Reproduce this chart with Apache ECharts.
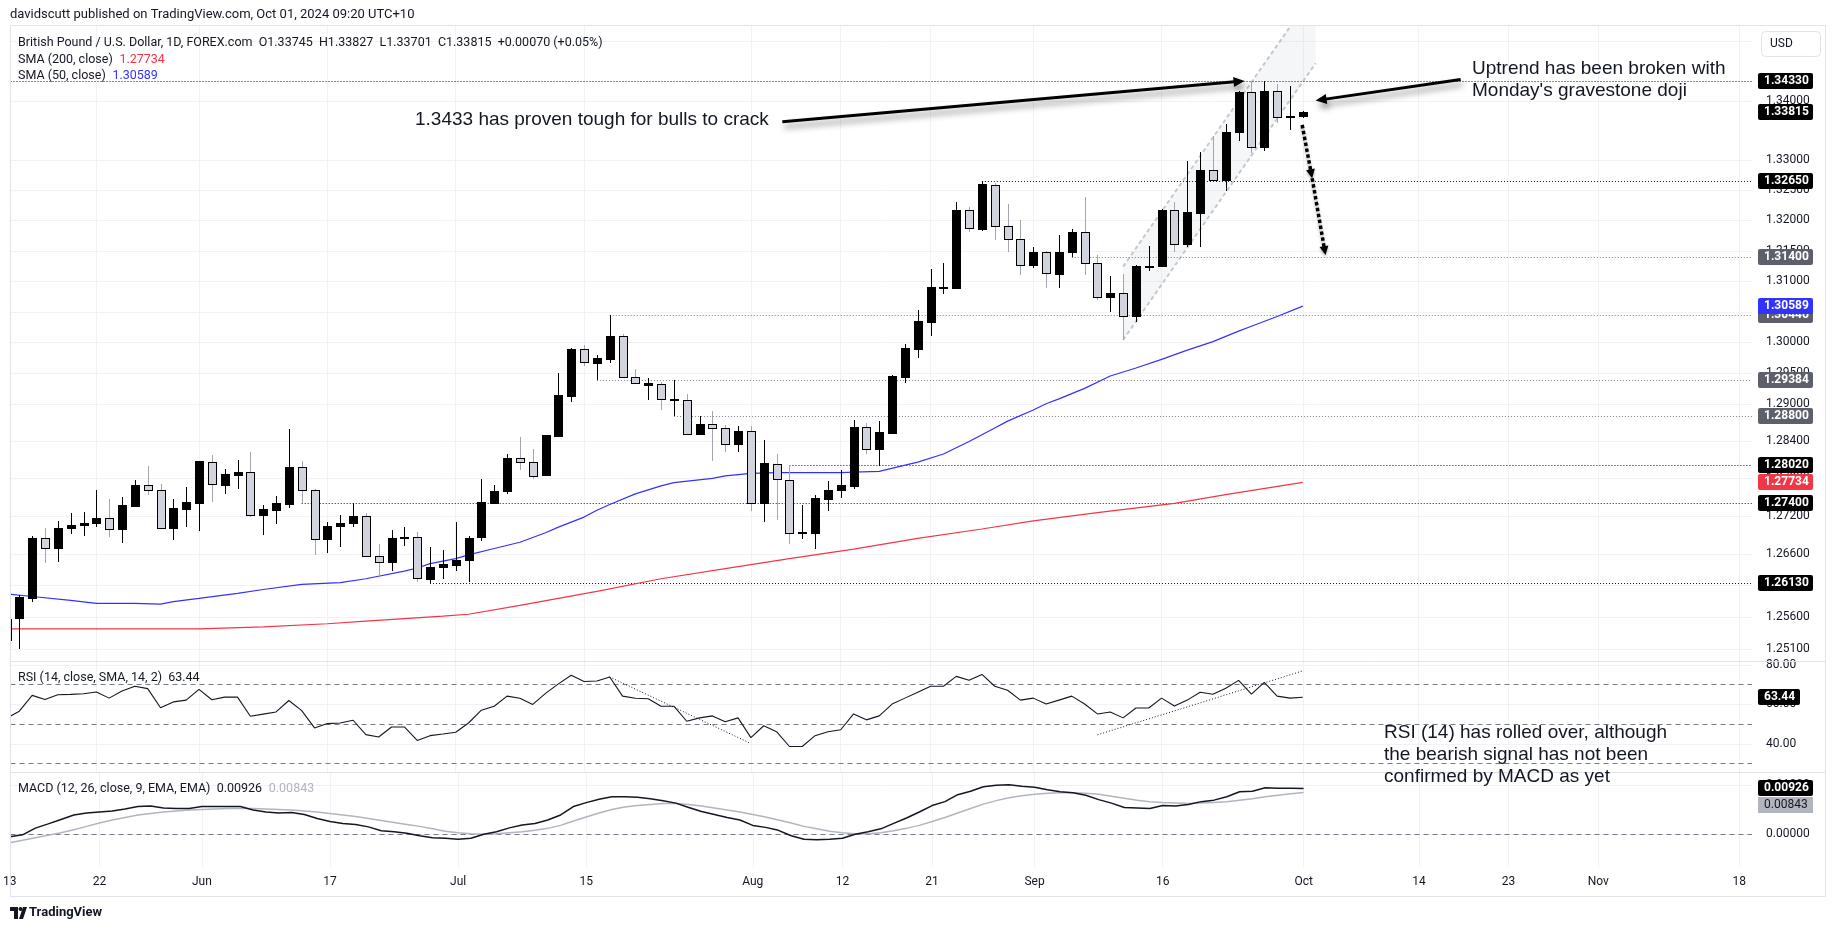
<!DOCTYPE html>
<html><head><meta charset="utf-8">
<script src="https://cdn.jsdelivr.net/npm/echarts@6/dist/echarts.min.js"></script>
<style>html,body{margin:0;padding:0;background:#fff;}#c{width:1835px;height:931px;}</style>
</head><body><div id="c"></div>
<script>
// ---------------- DATA ----------------
const dates = [
'2024-05-13','2024-05-14','2024-05-15','2024-05-16','2024-05-17','2024-05-20','2024-05-21','2024-05-22','2024-05-23','2024-05-24',
'2024-05-27','2024-05-28','2024-05-29','2024-05-30','2024-05-31','2024-06-03','2024-06-04','2024-06-05','2024-06-06','2024-06-07',
'2024-06-10','2024-06-11','2024-06-12','2024-06-13','2024-06-14','2024-06-17','2024-06-18','2024-06-19','2024-06-20','2024-06-21',
'2024-06-24','2024-06-25','2024-06-26','2024-06-27','2024-06-28','2024-07-01','2024-07-02','2024-07-03','2024-07-04','2024-07-05',
'2024-07-08','2024-07-09','2024-07-10','2024-07-11','2024-07-12','2024-07-15','2024-07-16','2024-07-17','2024-07-18','2024-07-19',
'2024-07-22','2024-07-23','2024-07-24','2024-07-25','2024-07-26','2024-07-29','2024-07-30','2024-07-31','2024-08-01','2024-08-02',
'2024-08-05','2024-08-06','2024-08-07','2024-08-08','2024-08-09','2024-08-12','2024-08-13','2024-08-14','2024-08-15','2024-08-16',
'2024-08-19','2024-08-20','2024-08-21','2024-08-22','2024-08-23','2024-08-26','2024-08-27','2024-08-28','2024-08-29','2024-08-30',
'2024-09-02','2024-09-03','2024-09-04','2024-09-05','2024-09-06','2024-09-09','2024-09-10','2024-09-11','2024-09-12','2024-09-13',
'2024-09-16','2024-09-17','2024-09-18','2024-09-19','2024-09-20','2024-09-23','2024-09-24','2024-09-25','2024-09-26','2024-09-27',
'2024-09-30','2024-10-01','2024-10-02','2024-10-03','2024-10-04','2024-10-07','2024-10-08','2024-10-09','2024-10-10','2024-10-11',
'2024-10-14','2024-10-15','2024-10-16','2024-10-17','2024-10-18','2024-10-21','2024-10-22','2024-10-23','2024-10-24','2024-10-25',
'2024-10-28','2024-10-29','2024-10-30','2024-10-31','2024-11-01','2024-11-04','2024-11-05','2024-11-06','2024-11-07','2024-11-08',
'2024-11-11','2024-11-12','2024-11-13','2024-11-14','2024-11-15','2024-11-18','2024-11-19'];
const xTickIdx    = [0,7,15,25,35,45,58,65,72,80,90,101,110,117,124,135];
const xTickLabels = ['13','22','Jun','17','Jul','15','Aug','12','21','Sep','16','Oct','14','23','Nov','18'];

const opens = [1.25240,1.25573,1.25902,1.26845,1.26681,1.26999,1.27046,1.27078,1.27163,1.26983,
1.27364,1.27688,1.27608,1.26999,1.27317,1.27412,1.28069,1.27698,1.27857,1.27894,
1.27211,1.27301,1.27396,1.27974,1.27608,1.26824,1.27036,1.27078,1.27195,1.26554,
1.26458,1.26850,1.26861,1.26204,1.26379,1.26426,1.26490,1.26858,1.27410,1.27599,
1.28131,1.28067,1.27852,1.28478,1.29133,1.29885,1.29667,1.29732,1.30103,1.29427,
1.29310,1.29315,1.29075,1.29059,1.28515,1.28675,1.28611,1.28355,1.28563,1.27400,
1.28036,1.27778,1.26938,1.26931,1.27473,1.27615,1.27676,1.28619,1.28269,1.28535,
1.29438,1.29896,1.30337,1.30895,1.30891,1.32173,1.31866,1.32595,1.31905,1.31691,
1.31258,1.31477,1.31125,1.31472,1.31806,1.31296,1.30732,1.30803,1.30430,1.31247,
1.31247,1.32170,1.31613,1.32131,1.32835,1.32678,1.33468,1.34145,1.33227,1.34156,
1.33725,1.33745];
const highs = [1.25700,1.25944,1.26871,1.27004,1.27120,1.27248,1.27264,1.27608,1.27470,1.27502,
1.27772,1.28000,1.27709,1.27470,1.27661,1.28080,1.28170,1.27947,1.28090,1.28218,
1.27375,1.27518,1.28594,1.28075,1.27630,1.27105,1.27216,1.27401,1.27243,1.26755,
1.26972,1.27020,1.26935,1.26702,1.26660,1.27099,1.26877,1.27783,1.27689,1.28185,
1.28457,1.28265,1.28495,1.29493,1.29901,1.29956,1.29787,1.30446,1.30135,1.29563,
1.29410,1.29347,1.29384,1.29160,1.28798,1.28888,1.28664,1.28648,1.28637,1.28409,
1.28185,1.28020,1.27373,1.27531,1.27752,1.27941,1.28736,1.28683,1.28720,1.29465,
1.29966,1.30528,1.31203,1.31296,1.32299,1.32223,1.32650,1.32623,1.32272,1.32009,
1.31560,1.31499,1.31757,1.31855,1.32387,1.31422,1.31088,1.31121,1.31270,1.31586,
1.32190,1.32301,1.32992,1.33137,1.33406,1.33608,1.34162,1.34313,1.34330,1.34280,
1.34246,1.33827];
const lows = [1.25100,1.25096,1.25838,1.26448,1.26458,1.26909,1.26872,1.27015,1.26856,1.26760,
1.27343,1.27534,1.26990,1.26808,1.27015,1.26951,1.27428,1.27555,1.27635,1.27174,
1.26887,1.27062,1.27333,1.27400,1.26570,1.26601,1.26697,1.27015,1.26550,1.26225,
1.26326,1.26713,1.26156,1.26130,1.26204,1.26331,1.26156,1.26794,1.27405,1.27547,
1.27941,1.27783,1.27845,1.28470,1.29022,1.29612,1.29384,1.29667,1.29420,1.29320,
1.29054,1.28894,1.28800,1.28510,1.28505,1.28078,1.28222,1.28222,1.27284,1.27094,
1.27126,1.26747,1.26826,1.26668,1.27284,1.27484,1.27632,1.28189,1.28004,1.28524,
1.29340,1.29748,1.30108,1.30781,1.30880,1.31817,1.31823,1.31680,1.31472,1.31105,
1.31209,1.30880,1.30883,1.31400,1.31105,1.30682,1.30496,1.30037,1.30337,1.31164,
1.31231,1.31477,1.31559,1.31559,1.32670,1.32492,1.33328,1.33126,1.33148,1.33619,
1.33507,1.33701];
const closes = [1.25570,1.25918,1.26845,1.26686,1.27004,1.27057,1.27089,1.27163,1.26988,1.27375,
1.27693,1.27608,1.27004,1.27322,1.27417,1.28075,1.27704,1.27863,1.27894,1.27216,
1.27306,1.27401,1.27974,1.27608,1.26829,1.27036,1.27089,1.27195,1.26560,1.26470,
1.26845,1.26858,1.26209,1.26384,1.26437,1.26500,1.26845,1.27415,1.27604,1.28131,
1.28067,1.27841,1.28489,1.29144,1.29890,1.29672,1.29738,1.30103,1.29427,1.29331,
1.29331,1.29075,1.29080,1.28515,1.28675,1.28611,1.28355,1.28563,1.27400,1.28041,
1.27783,1.26926,1.26942,1.27478,1.27620,1.27689,1.28619,1.28269,1.28540,1.29449,
1.29901,1.30342,1.30907,1.30900,1.32173,1.31872,1.32601,1.31905,1.31691,1.31264,
1.31477,1.31130,1.31477,1.31806,1.31296,1.30737,1.30803,1.30430,1.31253,1.31255,
1.32175,1.31613,1.32142,1.32835,1.32678,1.33473,1.34145,1.33227,1.34162,1.33720,
1.33745,1.33815];

// SMA readings: [day index, value]
const sma50 = [[0,1.2596],[2,1.2592],[5,1.2586],[7,1.2581],[10,1.2581],[12,1.2580],[13,1.2584],[15,1.2589],[18,1.2597],
[20,1.2603],[23,1.2611],[26,1.2614],[28,1.2620],[31,1.2632],[32,1.2637],[33,1.2644],[35,1.2652],[36,1.2658],[38,1.2668],
[40,1.2678],[42,1.2693],[43,1.2702],[45,1.2718],[46,1.2729],[47,1.2738],[49,1.2755],[51,1.2768],[52,1.2773],[55,1.2780],
[56,1.2784],[58,1.2788],[60,1.2789],[62,1.2789],[65,1.2789],[66,1.2790],[68,1.2791],[71,1.2806],[73,1.2819],[75,1.2839],
[76,1.2850],[77,1.2861],[78,1.2872],[80,1.2890],[81,1.2900],[82,1.2908],[84,1.2925],[86,1.2945],[88,1.2958],[90,1.2972],
[92,1.2987],[94,1.3001],[96,1.3018],[97,1.3026],[99,1.3042],[101,1.30589]];
const sma200 = [[0,1.2541],[7,1.2541],[15,1.2541],[20,1.2544],[25,1.2549],[28,1.2553],[31,1.2557],[34,1.2561],[36,1.2564],
[40,1.2578],[46,1.2600],[51,1.2620],[56,1.2636],[61,1.2652],[66,1.2667],[71,1.2684],[76,1.2699],[80,1.2712],[85,1.2725],
[91,1.2740],[95,1.2754],[101,1.27734]];

const rsi = [52.8,56.4,64.4,62.3,64.7,64.9,65.2,66.1,63.0,66.6,69.0,67.8,58.1,61.1,62.0,67.4,62.2,63.5,63.5,53.8,
54.9,56.0,61.8,56.7,47.9,50.1,50.4,51.8,44.5,43.3,48.4,48.4,41.6,44.0,44.8,45.7,50.4,56.9,58.9,64.0,
62.9,59.8,65.4,70.2,74.6,71.4,71.7,73.7,64.0,62.9,62.7,58.9,58.9,51.3,53.0,54,51,53,43,49,
46,38.5,38.5,44,46,47,55,52,54,60,63,66,69,69,74,72,75,69,67,62,
63,60,62,64,60,55,56,53,58,58,63,59,62,66,65,68,72,65,71,64,63,63.44];
const macd = [-0.0005,-0.0001,0.00125,0.0021,0.0030,0.0039,0.0043,0.0045,0.0047,0.0051,0.0056,0.0057,0.0053,0.0052,0.0052,
0.0056,0.0056,0.0056,0.0056,0.0049,0.0045,0.0043,0.0044,0.0040,0.0032,0.0026,0.0022,0.0020,0.0015,0.0007,0.0005,0.0002,
-0.0003,-0.0007,-0.0008,-0.0010,-0.0008,0.0000,0.0005,0.0013,0.0019,0.0022,0.0029,0.0039,0.0056,0.0064,0.0071,0.0076,
0.0076,0.0075,0.0072,0.0068,0.0063,0.0054,0.0046,0.0040,0.0034,0.0029,0.0018,0.0014,0.0008,-0.0003,-0.0010,-0.0011,
-0.0010,-0.0008,0.0000,0.0005,0.0011,0.0022,0.0033,0.0045,0.0058,0.0066,0.0080,0.0087,0.0096,0.0099,0.0100,0.0097,
0.0095,0.0090,0.0086,0.0084,0.0079,0.0070,0.0063,0.0054,0.0053,0.0052,0.0058,0.0057,0.0060,0.0066,0.0069,0.0076,
0.0086,0.0087,0.0094,0.0093,0.0093,0.00926];
const signal = [-0.0017,-0.0012,-0.0007,-0.0002,0.0003,0.0009,0.0016,0.0023,0.0029,0.0034,0.0039,0.0042,0.0045,0.0047,
0.0049,0.0050,0.0051,0.0052,0.0052,0.0052,0.0051,0.0050,0.0049,0.0047,0.0045,0.0042,0.0039,0.0036,0.0032,0.0028,0.0024,
0.0020,0.0016,0.0011,0.0006,0.0003,0.0001,0.0000,0.0001,0.0003,0.0005,0.0008,0.0012,0.0018,0.0027,0.0035,0.0043,0.0050,
0.0055,0.0058,0.0060,0.0062,0.0062,0.0060,0.0057,0.0053,0.0049,0.0045,0.0040,0.0035,0.0029,0.0023,0.0016,0.0011,0.0006,
0.0003,0.0001,0.0001,0.0003,0.0007,0.0012,0.0018,0.0026,0.0034,0.0043,0.0052,0.0061,0.0068,0.0074,0.0078,0.0081,0.0083,
0.0084,0.0084,0.0083,0.0081,0.0077,0.0073,0.0069,0.0066,0.0064,0.0063,0.0062,0.0063,0.0064,0.0066,0.0069,0.0072,0.0076,
0.0079,0.0082,0.00843];

const priceTicks = [1.35,1.34,1.33,1.325,1.32,1.315,1.31,1.305,1.30,1.295,1.29,1.284,1.278,1.272,1.266,1.261,1.256,1.251];
const rsiTicks = [80,60,40];
const rsiBands = [70,50,30];
const macdTicks = [0.01,0];
// horizontal levels: price, first day index, kind (k=black, g=grey)
const levelPrice = [1.3433,1.3265,1.314,1.30446,1.29384,1.288,1.2802,1.274,1.2613];
const levelStart = [0,76,83,47,46,52,61,23,33];
const levelKind  = ['k','k','g','g','g','g','k','k','k'];
// drawings in data space [day index, value]
const channelLower = [[87,1.30037],[102,1.34628]];
const channelUpperStart = [87,1.31237];
const arrowA = [[60.45,1.33643],[96.46,1.3433]];
const arrowB = [[113.3,1.34355],[102,1.3400]];
const arrowC = [[100.95,1.33592],[101.73,1.32701],[102.77,1.31429]];
const rsiLine1 = [[47,73.7],[58,40]];
const rsiLine2 = [[85,44.4],[101,76.8]];

// ---------------- CHART ----------------
const chart = echarts.init(document.getElementById('c'));
const tickSet = new Set(xTickIdx);
const FONT = 'Roboto, "Noto Sans", sans-serif';
function xAxisFor(gi, showLabel) {
  return {type:'category', gridIndex:gi, data:dates, boundaryGap:false,
    axisLine:{show:false}, axisTick:{show:false},
    axisLabel:{show:showLabel, interval:(i)=>tickSet.has(i), formatter:(v,i)=>xTickLabels[xTickIdx.indexOf(i)],
      color:'#131722', fontSize:12, fontFamily:FONT, margin:9},
    splitLine:{show:true, interval:(i)=>tickSet.has(i), lineStyle:{color:'#f0f2f5', width:1}}};
}
const candleData = opens.map((o,i)=>[i,o,closes[i],lows[i],highs[i]]);
function renderCandle(params, api) {
  const i = api.value(0), o = api.value(1), c = api.value(2), l = api.value(3), h = api.value(4);
  const po = api.coord([i,o]), pc = api.coord([i,c]), pl = api.coord([i,l]), ph = api.coord([i,h]);
  const x = Math.round(po[0]);
  const up = c >= o;
  const top = Math.round(Math.min(po[1],pc[1])), bot = Math.round(Math.max(po[1],pc[1]));
  const bh = Math.max(bot-top,1);
  const yh = Math.round(ph[1]), yl = Math.round(pl[1]);
  const ch = [
    {type:'rect', shape:{x:x, y:yh, width:1, height:Math.max(1,yl-yh)}, style:{fill: up?'#000000':'#a3a6af'}},
    {type:'rect', shape:{x:x-4, y:top, width:9, height:bh+1}, style:{fill:'#000000'}}
  ];
  if (!up && bh >= 2) ch.push({type:'rect', shape:{x:x-3, y:top+1, width:7, height:bh-1}, style:{fill:'#d1d4dc'}});
  return {type:'group', children:ch};
}
const option = {
  animation:false,
  grid:[{left:6.5,right:83,top:26,height:636},{left:6.5,right:83,top:662,height:111},{left:6.5,right:83,top:773,height:94}],
  xAxis:[xAxisFor(0,false), xAxisFor(1,false), xAxisFor(2,true)],
  yAxis:[
    {type:'log', logBase:Math.E, gridIndex:0, min:1.248897, max:1.352587, show:false},
    {type:'value', gridIndex:1, min:25.09, max:81.29, show:false},
    {type:'value', gridIndex:2, min:-0.006606, max:0.012384, show:false}],
  series:[
    {type:'line', xAxisIndex:0, yAxisIndex:0, data:sma200, symbol:'none', silent:true, z:2, lineStyle:{color:'#f23645', width:1.2}},
    {type:'line', xAxisIndex:0, yAxisIndex:0, data:sma50, symbol:'none', silent:true, z:2, lineStyle:{color:'#3232ff', width:1.2}},
    {type:'custom', xAxisIndex:0, yAxisIndex:0, renderItem:renderCandle, data:candleData, encode:{x:0,y:[1,2,3,4]}, z:3, silent:true},
    {type:'line', xAxisIndex:1, yAxisIndex:1, data:rsi.map((v,i)=>[i,v]), symbol:'none', silent:true, lineStyle:{color:'#131722', width:1.1}},
    {type:'line', xAxisIndex:2, yAxisIndex:2, data:signal.map((v,i)=>[i,v]), symbol:'none', silent:true, lineStyle:{color:'#b2b5be', width:1.5}},
    {type:'line', xAxisIndex:2, yAxisIndex:2, data:macd.map((v,i)=>[i,v]), symbol:'none', silent:true, lineStyle:{color:'#131722', width:1.5}}
  ]
};
chart.setOption(option);

// ---------------- OVERLAY (positions from the library's scales) ----------------
function X(idx){ const a=Math.floor(idx), b=Math.ceil(idx); const pa=chart.convertToPixel({xAxisIndex:0},a); if(a===b) return pa; const pb=chart.convertToPixel({xAxisIndex:0},b); return pa+(pb-pa)*(idx-a); }
const Y = (ax,v)=>chart.convertToPixel({yAxisIndex:ax}, v);
const P = (ax,pt)=>[X(pt[0]), Y(ax,pt[1])];
const PL=10.5, PR=1752, AR=1825.5;
const g=[];
const crisp = v=>Math.round(v)+0.5;
function line(x1,y1,x2,y2,stroke,w,dash,z,extra){ g.push({type:'line',z:z||1,silent:true,shape:{x1,y1,x2,y2},style:Object.assign({stroke,lineWidth:w||1,lineDash:dash||null},extra||{})}); }
function txt(x,y,s,font,fill,align,z,extra){ g.push({type:'text',z:z||10,silent:true,x,y,style:Object.assign({text:s,font,fill,textAlign:align||'left',textVerticalAlign:'middle'},extra||{})}); }
function rect(x,y,w,h,fill,z,r,stroke){ g.push({type:'rect',z:z||10,silent:true,shape:{x,y,width:w,height:h,r:r||0},style:{fill:fill,stroke:stroke||null,lineWidth:1}}); }
const F12 = '12px '+FONT, F12B = 'bold 12px '+FONT, F13 = '12.5px '+FONT;
let bz = 20;
function pbox(y,s,bg,fg,w){ bz+=2; rect(1758,Math.round(y)-8,w||55,16,bg,bz,2); txt(1764,Math.round(y),s,F12B,fg,'left',bz+1); }

// main pane grid + tick labels
priceTicks.forEach(v=>{ const y=crisp(Y(0,v)); line(PL,y,PR,y,'#f0f2f5',1,null,0); txt(1766,Y(0,v),v.toFixed(5),F12,'#131722','left',10); });
// RSI pane
rsiTicks.forEach(v=>{ const y=crisp(Y(1,v)); line(PL,y,PR,y,'#f0f2f5',1,null,0); txt(1766,Y(1,v),v.toFixed(2),F12,'#131722','left',10); });
rsiBands.forEach(v=>{ const y=crisp(Y(1,v)); line(PL,y,PR,y,'#787b86',1,[5,4],1); });
// MACD pane
macdTicks.forEach(v=>{ const y=crisp(Y(2,v)); line(PL,y,PR,y,'#f0f2f5',1,null,0); txt(1766,Y(2,v),v.toFixed(5),F12,'#131722','left',10); });
line(PL,crisp(Y(2,0)),PR,crisp(Y(2,0)),'#787b86',1,[5,4],1);

// level lines
levelPrice.forEach((p,k)=>{ const y=crisp(Y(0,p)); const x1 = levelStart[k]===0?PL:X(levelStart[k]);
  line(x1,y,PR,y, levelKind[k]==='k'?'#131722':'#787b86',1,[1,2],2); });

// channel
(function(){
  const LL=P(0,channelLower[0]), LR=P(0,channelLower[1]), UL=P(0,channelUpperStart);
  const UR=[LR[0]+(UL[0]-LL[0]), LR[1]+(UL[1]-LL[1])];
  const top=26;
  let poly, upEnd;
  if (UR[1] < top) { const t=(top-UL[1])/(UR[1]-UL[1]); const xi=UL[0]+(UR[0]-UL[0])*t; upEnd=[xi,top]; poly=[LL,LR,[LR[0],top],[xi,top],UL]; }
  else { upEnd=UR; poly=[LL,LR,UR,UL]; }
  g.push({type:'polygon',z:1,silent:true,shape:{points:poly},style:{fill:'rgba(209,212,220,0.22)'}});
  line(LL[0],LL[1],LR[0],LR[1],'#c5c8cf',2,[4,3],1);
  line(UL[0],UL[1],upEnd[0],upEnd[1],'#c5c8cf',2,[4,3],1);
})();

// arrows
const SH={shadowBlur:6,shadowColor:'rgba(0,0,0,0.45)',shadowOffsetX:2,shadowOffsetY:5};
function head(p,q,size,width,z,extra){ const dx=q[0]-p[0],dy=q[1]-p[1],L=Math.hypot(dx,dy),ux=dx/L,uy=dy/L; const bx=q[0]-ux*size,by=q[1]-uy*size;
  g.push({type:'polygon',z,silent:true,shape:{points:[[q[0],q[1]],[bx-uy*width/2,by+ux*width/2],[bx+uy*width/2,by-ux*width/2]]},style:Object.assign({fill:'#000'},extra||{})});
  return [bx+ux*1,by+uy*1]; }
function solidArrow(pts){ const p=P(0,pts[0]), q=P(0,pts[1]); const b=head(p,q,11,10,41,SH); line(p[0],p[1],b[0],b[1],'#000',3,null,40,SH); }
solidArrow(arrowA); solidArrow(arrowB);
(function(){ const S2={shadowBlur:3,shadowColor:'rgba(0,0,0,0.3)',shadowOffsetY:2}; const pts=arrowC.map(t=>P(0,t)); for(let k=0;k<pts.length-1;k++){ const b=head(pts[k],pts[k+1],9,9,41,S2); line(pts[k][0],pts[k][1],b[0],b[1],'#000',3.5,[3.5,2.5],40,S2); } })();
// RSI trend lines
[rsiLine1,rsiLine2].forEach(l=>{ const a=P(1,l[0]), b=P(1,l[1]); line(a[0],a[1],b[0],b[1],'#131722',1,[1,2],5); });

// price scale boxes
g.push({type:'rect',z:19,silent:true,shape:{x:1761.5,y:31.5,width:59,height:25,r:4},style:{fill:'#fff',stroke:'#e0e3eb',lineWidth:1}});
txt(1770,44,'USD',F12,'#131722','left',19);
const colK='#000000', colG='#5d606b';
levelPrice.forEach((p,k)=>{ if(k===3) { pbox(Y(0,p),p.toFixed(5),colG,'#fff'); pbox(Y(0,sma50[sma50.length-1][1]),sma50[sma50.length-1][1].toFixed(5),'#3232ff','#fff'); } else pbox(Y(0,p),p.toFixed(5),levelKind[k]==='k'?colK:colG,'#fff'); });
pbox(Y(0,closes[closes.length-1]),closes[closes.length-1].toFixed(5),colK,'#fff');
pbox(Y(0,sma200[sma200.length-1][1]),sma200[sma200.length-1][1].toFixed(5),'#f23645','#fff');
pbox(Y(1,rsi[rsi.length-1]),rsi[rsi.length-1].toFixed(2),colK,'#fff',42);
(function(){ const y1=Y(2,macd[macd.length-1]); pbox(y1,macd[macd.length-1].toFixed(5),colK,'#fff'); const y2=Math.max(Y(2,signal[signal.length-1]),y1+17); bz+=2; rect(1758,Math.round(y2)-8,55,16,'#b2b5be',bz,0); txt(1764,Math.round(y2),signal[signal.length-1].toFixed(5),F12,'#131722','left',bz+1); })();

// frame, separators, cover
rect(0,26,10,842,'#fff',30);
g.push({type:'rect',z:31,silent:true,shape:{x:10.5,y:25.5,width:1815,height:871},style:{fill:null,stroke:'#e0e3eb',lineWidth:1}});
line(10.5,661.5,AR,661.5,'#e0e3eb',1,null,31);
line(10.5,772.5,AR,772.5,'#e0e3eb',1,null,31);

// texts
txt(10,15,'davidscutt published on TradingView.com, Oct 01, 2024 09:20 UTC+10','13px '+FONT,'#131722','left',50);
const o=opens[opens.length-1],h=highs[highs.length-1],l=lows[lows.length-1],c=closes[closes.length-1],pc=closes[closes.length-2];
const chg=c-pc;
txt(18,43,'British Pound / U.S. Dollar, 1D, FOREX.com  O'+o.toFixed(5)+'  H'+h.toFixed(5)+'  L'+l.toFixed(5)+'  C'+c.toFixed(5)+'  +'+chg.toFixed(5)+' (+'+(chg/pc*100).toFixed(2)+'%)',F13,'#131722','left',50);
g.push({type:'text',z:50,silent:true,x:18,y:60,style:{text:'{a|SMA (200, close)}  {r|'+sma200[sma200.length-1][1].toFixed(5)+'}',textVerticalAlign:'middle',rich:{a:{font:F13,fill:'#131722'},r:{font:F13,fill:'#f23645'}}}});
g.push({type:'text',z:50,silent:true,x:18,y:76,style:{text:'{a|SMA (50, close)}  {r|'+sma50[sma50.length-1][1].toFixed(5)+'}',textVerticalAlign:'middle',rich:{a:{font:F13,fill:'#131722'},r:{font:F13,fill:'#3232ff'}}}});
txt(18,678,'RSI (14, close, SMA, 14, 2)  '+rsi[rsi.length-1].toFixed(2),F13,'#131722','left',50);
g.push({type:'text',z:50,silent:true,x:18,y:789,style:{text:'{a|MACD (12, 26, close, 9, EMA, EMA)  '+macd[macd.length-1].toFixed(5)+'}  {r|'+signal[signal.length-1].toFixed(5)+'}',textVerticalAlign:'middle',rich:{a:{font:F13,fill:'#131722'},r:{font:F13,fill:'#b2b5be'}}}});

const AF='19px "Liberation Sans", Arial, sans-serif';
txt(415,120,'1.3433 has proven tough for bulls to crack',AF,'#131722','left',50);
txt(1472,69,'Uptrend has been broken with',AF,'#131722','left',50);
txt(1472,91,"Monday's gravestone doji",AF,'#131722','left',50);
txt(1384,733,'RSI (14) has rolled over, although',AF,'#131722','left',50);
txt(1384,755,'the bearish signal has not been',AF,'#131722','left',50);
txt(1384,777,'confirmed by MACD as yet',AF,'#131722','left',50);

// logo
g.push({type:'polygon',z:50,silent:true,shape:{points:[[10,907],[18,907],[18,919],[14,919],[14,911],[10,911]]},style:{fill:'#131722'}});
g.push({type:'circle',z:50,silent:true,shape:{cx:20.5,cy:909,r:2},style:{fill:'#131722'}});
g.push({type:'polygon',z:50,silent:true,shape:{points:[[23,907],[27,907],[23,919],[19,919]]},style:{fill:'#131722'}});
txt(29,913,'TradingView','bold 13px '+FONT,'#131722','left',50);

chart.setOption({graphic:{elements:g}});
</script></body></html>
